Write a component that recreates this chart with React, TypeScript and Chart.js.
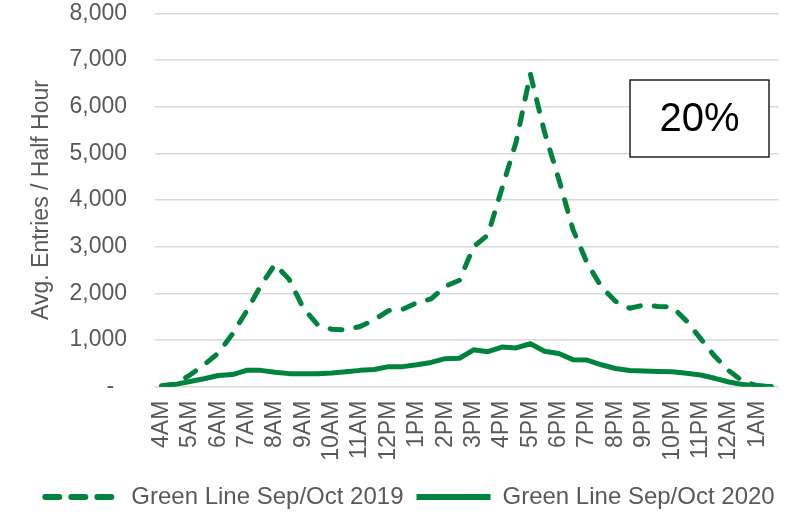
import React, { useEffect, useRef } from "react";
import { Chart, registerables } from "chart.js";

Chart.register(...registerables);

const hourLabels = [
  "4AM", "5AM", "6AM", "7AM", "8AM", "9AM", "10AM", "11AM", "12PM", "1PM", "2PM",
  "3PM", "4PM", "5PM", "6PM", "7PM", "8PM", "9PM", "10PM", "11PM", "12AM", "1AM",
];

// Half-hour values from 4:00 AM to 1:30 AM (44 points)
const green2019 = [
  20, 60, 250, 470, 720, 1130, 1620, 2170, 2620, 2300, 1680, 1330, 1230, 1220,
  1290, 1430, 1630, 1660, 1800, 1880, 2150, 2280, 3000, 3250, 4250, 5250, 6700,
  5450, 4450, 3370, 2650, 2140, 1830, 1680, 1750, 1720, 1710, 1410, 1030, 650,
  340, 110, 25, 0,
];

const green2020 = [
  0, 50, 110, 170, 240, 260, 350, 350, 310, 280, 275, 280, 295, 320, 350, 370,
  430, 430, 470, 520, 600, 610, 790, 750, 850, 830, 920, 760, 710, 580, 570, 470,
  390, 345, 335, 325, 320, 290, 250, 180, 100, 45, 15, 5,
];

const seriesNames = ["Green Line Sep/Oct 2019", "Green Line Sep/Oct 2020"];
const yTicks = [0, 1000, 2000, 3000, 4000, 5000, 6000, 7000, 8000];
const yTitle = "Avg. Entries / Half Hour";
const boxText = "20%";

const GREEN = "#00843D";
const GRAY = "#595959";
const FONT = "'Liberation Sans', Arial, sans-serif";
const DASH = [12, 14];
const LEGEND_DASH = [14, 12];

const textBoxPlugin = {
  id: "textBox",
  afterDraw(chart: any) {
    const ctx = chart.ctx;
    const x = 630, y = 80, w = 139, h = 77;
    ctx.save();
    ctx.fillStyle = "#ffffff";
    ctx.fillRect(x, y, w, h);
    ctx.strokeStyle = "#000000";
    ctx.lineWidth = 1.3;
    ctx.strokeRect(x, y, w, h);
    ctx.fillStyle = "#000000";
    ctx.font = `40px ${FONT}`;
    ctx.textAlign = "center";
    ctx.textBaseline = "middle";
    ctx.fillText(boxText, x + w / 2, y + h / 2 + 1);
    ctx.restore();
  },
};

export default function App() {
  const ref = useRef<HTMLCanvasElement | null>(null);

  useEffect(() => {
    if (!ref.current) return;
    const chart = new Chart(ref.current, {
      type: "line",
      data: {
        labels: green2019.map((_, i) => i),
        datasets: [
          {
            label: seriesNames[0],
            data: green2019,
            borderColor: GREEN,
            backgroundColor: GREEN,
            borderWidth: 5,
            borderDash: DASH,
            borderCapStyle: "round",
            borderJoinStyle: "round",
            pointRadius: 0,
            tension: 0,
          },
          {
            label: seriesNames[1],
            data: green2020,
            borderColor: GREEN,
            backgroundColor: GREEN,
            borderWidth: 5,
            borderCapStyle: "round",
            borderJoinStyle: "round",
            pointRadius: 0,
            tension: 0,
          },
        ],
      },
      options: {
        animation: false,
        responsive: false,
        layout: { padding: { right: 6, left: 28, top: 0, bottom: 0 } },
        plugins: {
          tooltip: { enabled: false },
          legend: {
            position: "bottom",
            labels: {
              usePointStyle: true,
              pointStyle: "line",
              pointStyleWidth: 74,
              boxHeight: 24,
              padding: 13,
              color: GRAY,
              font: { family: FONT, size: 24 },
              generateLabels: (c: any) => {
                const items = (Chart as any).defaults.plugins.legend.labels.generateLabels(c);
                items.forEach((it: any) => {
                  const ds = c.data.datasets[it.datasetIndex];
                  it.lineDash = ds.borderDash ? LEGEND_DASH : [];
                  it.lineWidth = 6;
                  it.lineCap = ds.borderDash ? "round" : "butt";
                  it.strokeStyle = GREEN;
                  it.fillStyle = GREEN;
                  it.pointStyle = "line";
                });
                return items;
              },
            },
          },
        },
        scales: {
          x: {
            type: "linear",
            min: -0.46,
            max: 43.52,
            grid: { display: false, drawTicks: false },
            border: { display: false },
            afterBuildTicks: (scale: any) => {
              scale.ticks = hourLabels.map((_, i) => ({ value: i * 2 }));
            },
            afterFit: (scale: any) => {
              scale.height = 85.3;
            },
            ticks: {
              autoSkip: false,
              minRotation: 90,
              maxRotation: 90,
              padding: 14,
              color: GRAY,
              font: { family: FONT, size: 23, lineHeight: 1.15 },
              callback: (v: any) => hourLabels[Math.round(Number(v) / 2)] ?? "",
            },
          },
          y: {
            min: 0,
            max: 8000,
            afterBuildTicks: (scale: any) => {
              scale.ticks = yTicks.map((v) => ({ value: v }));
            },
            afterFit: (scale: any) => {
              scale.width = 127;
              scale.paddingTop = 13.3;
              scale.paddingBottom = 13.3;
            },
            grid: { color: "#d9d9d9", lineWidth: 1.5, drawTicks: false },
            border: { display: false },
            title: {
              display: true,
              text: yTitle,
              color: GRAY,
              font: { family: FONT, size: 23, lineHeight: 1.2 },
              padding: { top: 0, bottom: 10 },
            },
            ticks: {
              padding: 28,
              color: GRAY,
              font: { family: FONT, size: 23, lineHeight: 1.15 },
              callback: (v: any) =>
                Number(v) === 0 ? "-  " : Number(v).toLocaleString("en-US"),
            },
          },
        },
      },
      plugins: [textBoxPlugin],
    });
    return () => chart.destroy();
  }, []);

  return (
    <div style={{ position: "absolute", left: 0, top: 0, width: 798, height: 519, background: "#fff" }}>
      <canvas ref={ref} width={798} height={519} />
    </div>
  );
}
